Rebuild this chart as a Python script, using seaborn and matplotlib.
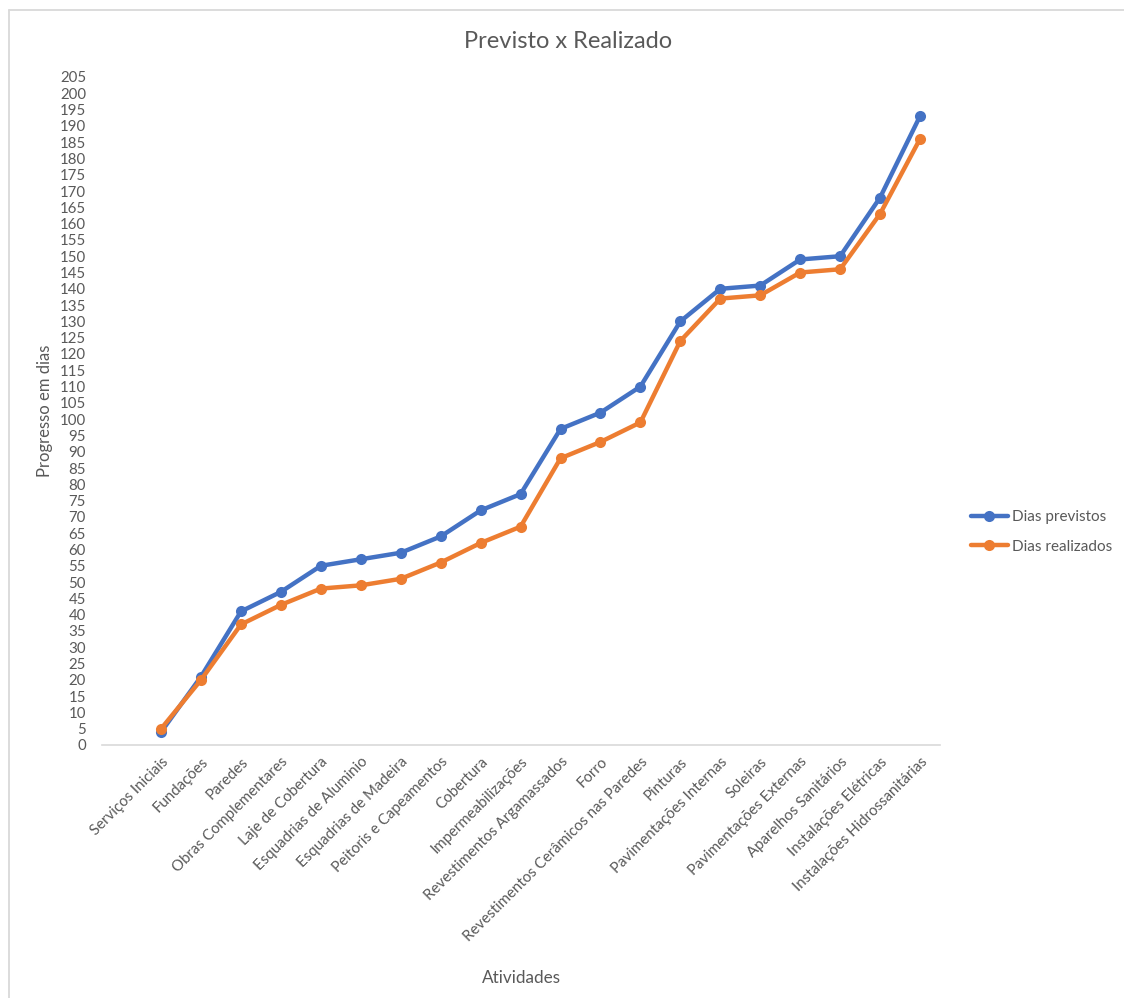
import matplotlib
matplotlib.use("Agg")
import matplotlib.pyplot as plt
from matplotlib.lines import Line2D
import seaborn as sns
import pandas as pd

# Activities of the construction schedule
atividades = [
    "Serviços Iniciais", "Fundações", "Paredes", "Obras Complementares",
    "Laje de Cobertura", "Esquadrias de Aluminio", "Esquadrias de Madeira",
    "Peitoris e Capeamentos", "Cobertura", "Impermeabilizações",
    "Revestimentos Argamassados", "Forro", "Revestimentos Cerâmicos nas Paredes",
    "Pinturas", "Pavimentações Internas", "Soleiras", "Pavimentações Externas",
    "Aparelhos Sanitários", "Instalações Elétricas", "Instalações Hidrossanitárias",
]

# Cumulative progress in days
dias_previstos = [4, 21, 41, 47, 55, 57, 59, 64, 72, 77, 97, 102, 110, 130, 140, 141, 149, 150, 168, 193]
dias_realizados = [5, 20, 37, 43, 48, 49, 51, 56, 62, 67, 88, 93, 99, 124, 137, 138, 145, 146, 163, 186]

series_names = ["Dias previstos", "Dias realizados"]
colors = ["#4472C4", "#ED7D31"]
y_ticks = list(range(0, 206, 5))

sns.set_theme(style="white")
plt.rcParams["font.family"] = ["Lato", "DejaVu Sans"]

text_gray = "#595959"

df = pd.DataFrame({
    "pos": list(range(len(atividades))) * 2,
    "dias": dias_previstos + dias_realizados,
    "serie": [series_names[0]] * len(atividades) + [series_names[1]] * len(atividades),
})

W, H = 1124, 998
fig = plt.figure(figsize=(W / 100, H / 100), dpi=100)
ax = fig.add_axes([102 / W, 1 - 745 / H, (940 - 102) / W, (745 - 77) / H])

sns.lineplot(
    data=df, x="pos", y="dias", hue="serie", palette=colors,
    marker="o", markersize=8, markeredgewidth=0, linewidth=3.2,
    ax=ax, legend=False, sort=False,
)

ax.set_xlim(-1.48, 19.5)
ax.set_ylim(0, 205)
ax.set_yticks(y_ticks)
ax.set_yticklabels([str(v) for v in y_ticks], fontsize=10.8, color=text_gray)
ax.set_xticks(range(len(atividades)))
ax.set_xticklabels(atividades, rotation=45, ha="right", rotation_mode="anchor",
                   fontsize=10.8, color=text_gray)
ax.tick_params(axis="x", length=0, pad=7)
ax.tick_params(axis="y", length=0, pad=11.5)

for side in ["top", "right", "left"]:
    ax.spines[side].set_visible(False)
ax.spines["bottom"].set_color("#D9D9D9")
ax.spines["bottom"].set_linewidth(1.2)

ax.set_xlabel("Atividades", fontsize=12.3, color=text_gray, labelpad=0)
ax.xaxis.set_label_coords(0.5, -(970 - 745) / (745 - 77))
ax.set_ylabel("Progresso em dias", fontsize=12, color=text_gray)
ax.yaxis.set_label_coords(-(102 - 53) / (940 - 102), 0.5)

fig.text(568 / W, 1 - 41 / H, "Previsto x Realizado", ha="center", va="center",
         fontsize=17, color=text_gray)

handles = [
    Line2D([0], [0], color=c, lw=3.2, marker="o", markersize=8, markeredgewidth=0)
    for c in colors
]
fig.legend(handles, series_names, loc="center left",
           bbox_to_anchor=(965 / W, 1 - 532 / H), frameon=False,
           fontsize=11, labelcolor=text_gray, handlelength=2.4,
           handletextpad=0.25, labelspacing=1.0, borderaxespad=0)

# Chart frame
frame = "#D9D9D9"
fig.add_artist(Line2D([8.5 / W, 1.0], [1 - 9.5 / H, 1 - 9.5 / H], color=frame, lw=1.3,
                      transform=fig.transFigure))
fig.add_artist(Line2D([8.5 / W, 8.5 / W], [0, 1 - 9.5 / H], color=frame, lw=1.3,
                      transform=fig.transFigure))

fig.savefig("out.png", dpi=100, facecolor="white")
